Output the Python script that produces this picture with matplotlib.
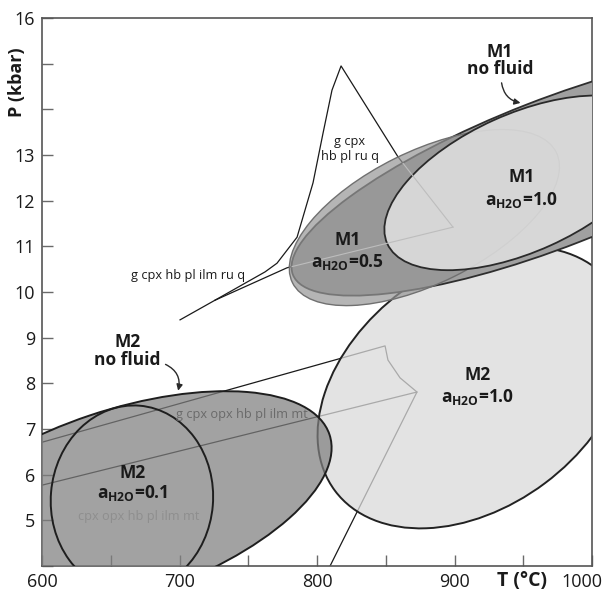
import numpy as np
import matplotlib
matplotlib.use("Agg")
import matplotlib.pyplot as plt
from matplotlib.colors import to_rgba
from matplotlib.patches import Ellipse, FancyArrowPatch
from matplotlib.transforms import Affine2D, ScaledTranslation

plt.rcParams["font.family"] = ["Open Sans", "DejaVu Sans"]
plt.rcParams["mathtext.fontset"] = "custom"
plt.rcParams["mathtext.bf"] = "Open Sans:bold"
plt.rcParams["mathtext.rm"] = "Open Sans"

# P-T fields (ellipses): centre T (C), centre P (kbar), axes in T-equivalent units, tilt
ell_names = ["M2 aH2O=1.0", "M2 no fluid", "M2 aH2O=0.1", "M1 no fluid", "M1 aH2O=0.5", "M1 aH2O=1.0"]
ell_T = [913.6, 656.4, 665.4, 971.6, 878.1, 949.1]
ell_P = [7.91, 5.34, 5.47, 12.60, 11.63, 12.39]
ell_w = [251, 322, 118, 406, 214, 215]
ell_h = [174, 137, 136, 107, 96, 100]
ell_ang = [36.8, 18.5, -4.8, 21.3, 26.3, 24.3]

# phase-diagram boundaries
hp_T = [700.4, 725.8, 762.2, 770.9, 785.5, 797.1, 804.4, 810.9, 817.5, 858.9, 898.9]
hp_P = [9.39, 9.82, 10.44, 10.63, 11.20, 12.39, 13.48, 14.42, 14.95, 12.96, 11.42]
hp2_T = [725.8, 778.2, 898.9]
hp2_P = [9.82, 10.53, 11.42]
lp_T = [600, 849.5, 851.6, 860.4, 872.7]
lp_P = [6.71, 8.82, 8.51, 8.12, 7.81]
lp2_T = [600, 872.7, 809.5]
lp2_P = [5.77, 7.81, 4.0]

# field labels
fld_text = ["g cpx hb pl ilm ru q", "g cpx\nhb pl ru q", "g cpx opx hb pl ilm mt", "cpx opx hb pl ilm mt"]
fld_T = [706.2, 824, 745.5, 670.5]
fld_P = [10.37, 13.14, 7.31, 5.09]

xticks = np.arange(600, 1001, 50)
xlabels = ["600", "", "700", "", "800", "", "900", "", "1000"]
yticks = np.arange(4, 17, 1)
ylabels = ["", "5", "6", "7", "8", "9", "10", "11", "12", "13", "", "", "16"]

K = (548 / 12) / (550 / 400)  # T-units per kbar on screen

fig = plt.figure(figsize=(6.05, 5.94), dpi=100)
ax = fig.add_axes([42 / 605, 28 / 594, 550 / 605, 548 / 594])
ax.set_xlim(600, 1000)
ax.set_ylim(4, 16)

lc = "#1a1a1a"
for t, p in [(hp_T, hp_P), (hp2_T, hp2_P), (lp_T, lp_P), (lp2_T, lp2_P)]:
    ax.plot(t, p, color=lc, lw=0.9, zorder=1)

tr = Affine2D().scale(1, 1 / K) + ax.transData
fills = [to_rgba("#dadada", 0.75), to_rgba("#7f7f7f", 0.72), "none",
         to_rgba("#a0a0a0", 1.0), to_rgba("#969696", 0.7), to_rgba("#e2e2e2", 0.85)]
edges = ["#222222", "#1e1e1e", "#1e1e1e", "#2e2e2e", "#707070", "#2a2a2a"]
widths = [1.4, 1.4, 1.4, 1.3, 1.0, 1.3]
patches = []
for i in range(len(ell_T)):
    e = Ellipse((ell_T[i], ell_P[i] * K), ell_w[i], ell_h[i], angle=ell_ang[i],
                transform=tr, facecolor=fills[i], edgecolor=edges[i],
                lw=widths[i], zorder=2 + i)
    ax.add_patch(e)
    patches.append(e)

# faint boundaries seen through the M1 fields
for t, p in [(hp_T, hp_P), (hp2_T, hp2_P)]:
    ln, = ax.plot(t, p, color="#bdbdbd", lw=0.8, zorder=8)
    ln.set_clip_path(patches[3])

fs_fld = 9.2
ax.text(fld_T[0], fld_P[0], fld_text[0], fontsize=fs_fld, color="#1a1a1a",
        ha="center", va="center", zorder=10)
ax.text(fld_T[1], fld_P[1], fld_text[1], fontsize=fs_fld, color="#1a1a1a",
        ha="center", va="center", linespacing=1.2, zorder=10)
ax.text(fld_T[2], fld_P[2], fld_text[2], fontsize=fs_fld, color="#6a6a6a",
        ha="center", va="center", zorder=10)
ax.text(fld_T[3], fld_P[3], fld_text[3], fontsize=fs_fld, color="#8e8e8e",
        ha="center", va="center", zorder=10)

# field names
bold = dict(fontsize=12.5, fontweight="bold", color="#1a1a1a", ha="center",
            va="center", multialignment="center", zorder=10)
aw = r"a$_{\mathbf{H2O}}$="
ax.text(933, 15.07, "M1\nno fluid", linespacing=0.95, **bold)
ax.text(662, 8.70, "M2\nno fluid", linespacing=1.0, **bold)
ax.text(949, 12.52, "M1", **bold)
ax.text(949, 12.01, aw + "1.0", **bold)
ax.text(822.5, 11.14, "M1", **bold)
ax.text(822.5, 10.66, aw + "0.5", **bold)
ax.text(917, 8.18, "M2", **bold)
ax.text(917, 7.70, aw + "1.0", **bold)
ax.text(666, 6.04, "M2", **bold)
ax.text(666, 5.60, aw + "0.1", **bold)

for (t0, p0), (t1, p1), rad in [((688, 8.44), (698.5, 7.78), -0.45),
                               ((934, 14.64), (950, 14.13), 0.4)]:
    ax.add_patch(FancyArrowPatch((t0, p0), (t1, p1), connectionstyle=f"arc3,rad={rad}",
                                 arrowstyle="-|>", mutation_scale=9, lw=1.0,
                                 color="#2a2a2a", zorder=10))

ax.set_xticks(xticks)
ax.set_xticklabels(xlabels)
ax.set_yticks(yticks)
ax.set_yticklabels(ylabels)
ax.tick_params(direction="in", length=8, width=1, color="#6a6a6a", labelsize=13,
               labelcolor="#1a1a1a", pad=5)
for sp in ax.spines.values():
    sp.set_color("#555555")
    sp.set_linewidth(1.2)
last = ax.get_xticklabels()[-1]
last.set_transform(last.get_transform() + ScaledTranslation(-0.1, 0, fig.dpi_scale_trans))

ax.text(949, -0.027, "T (°C)", transform=ax.get_xaxis_transform(), fontsize=14,
        fontweight="bold", color="#1a1a1a", ha="center", va="center")
ax.text(-0.045, 14.6, "P (kbar)", transform=ax.get_yaxis_transform(), fontsize=13,
        fontweight="bold", color="#1a1a1a", ha="center", va="center", rotation=90)

fig.savefig("out.png", dpi=100)
